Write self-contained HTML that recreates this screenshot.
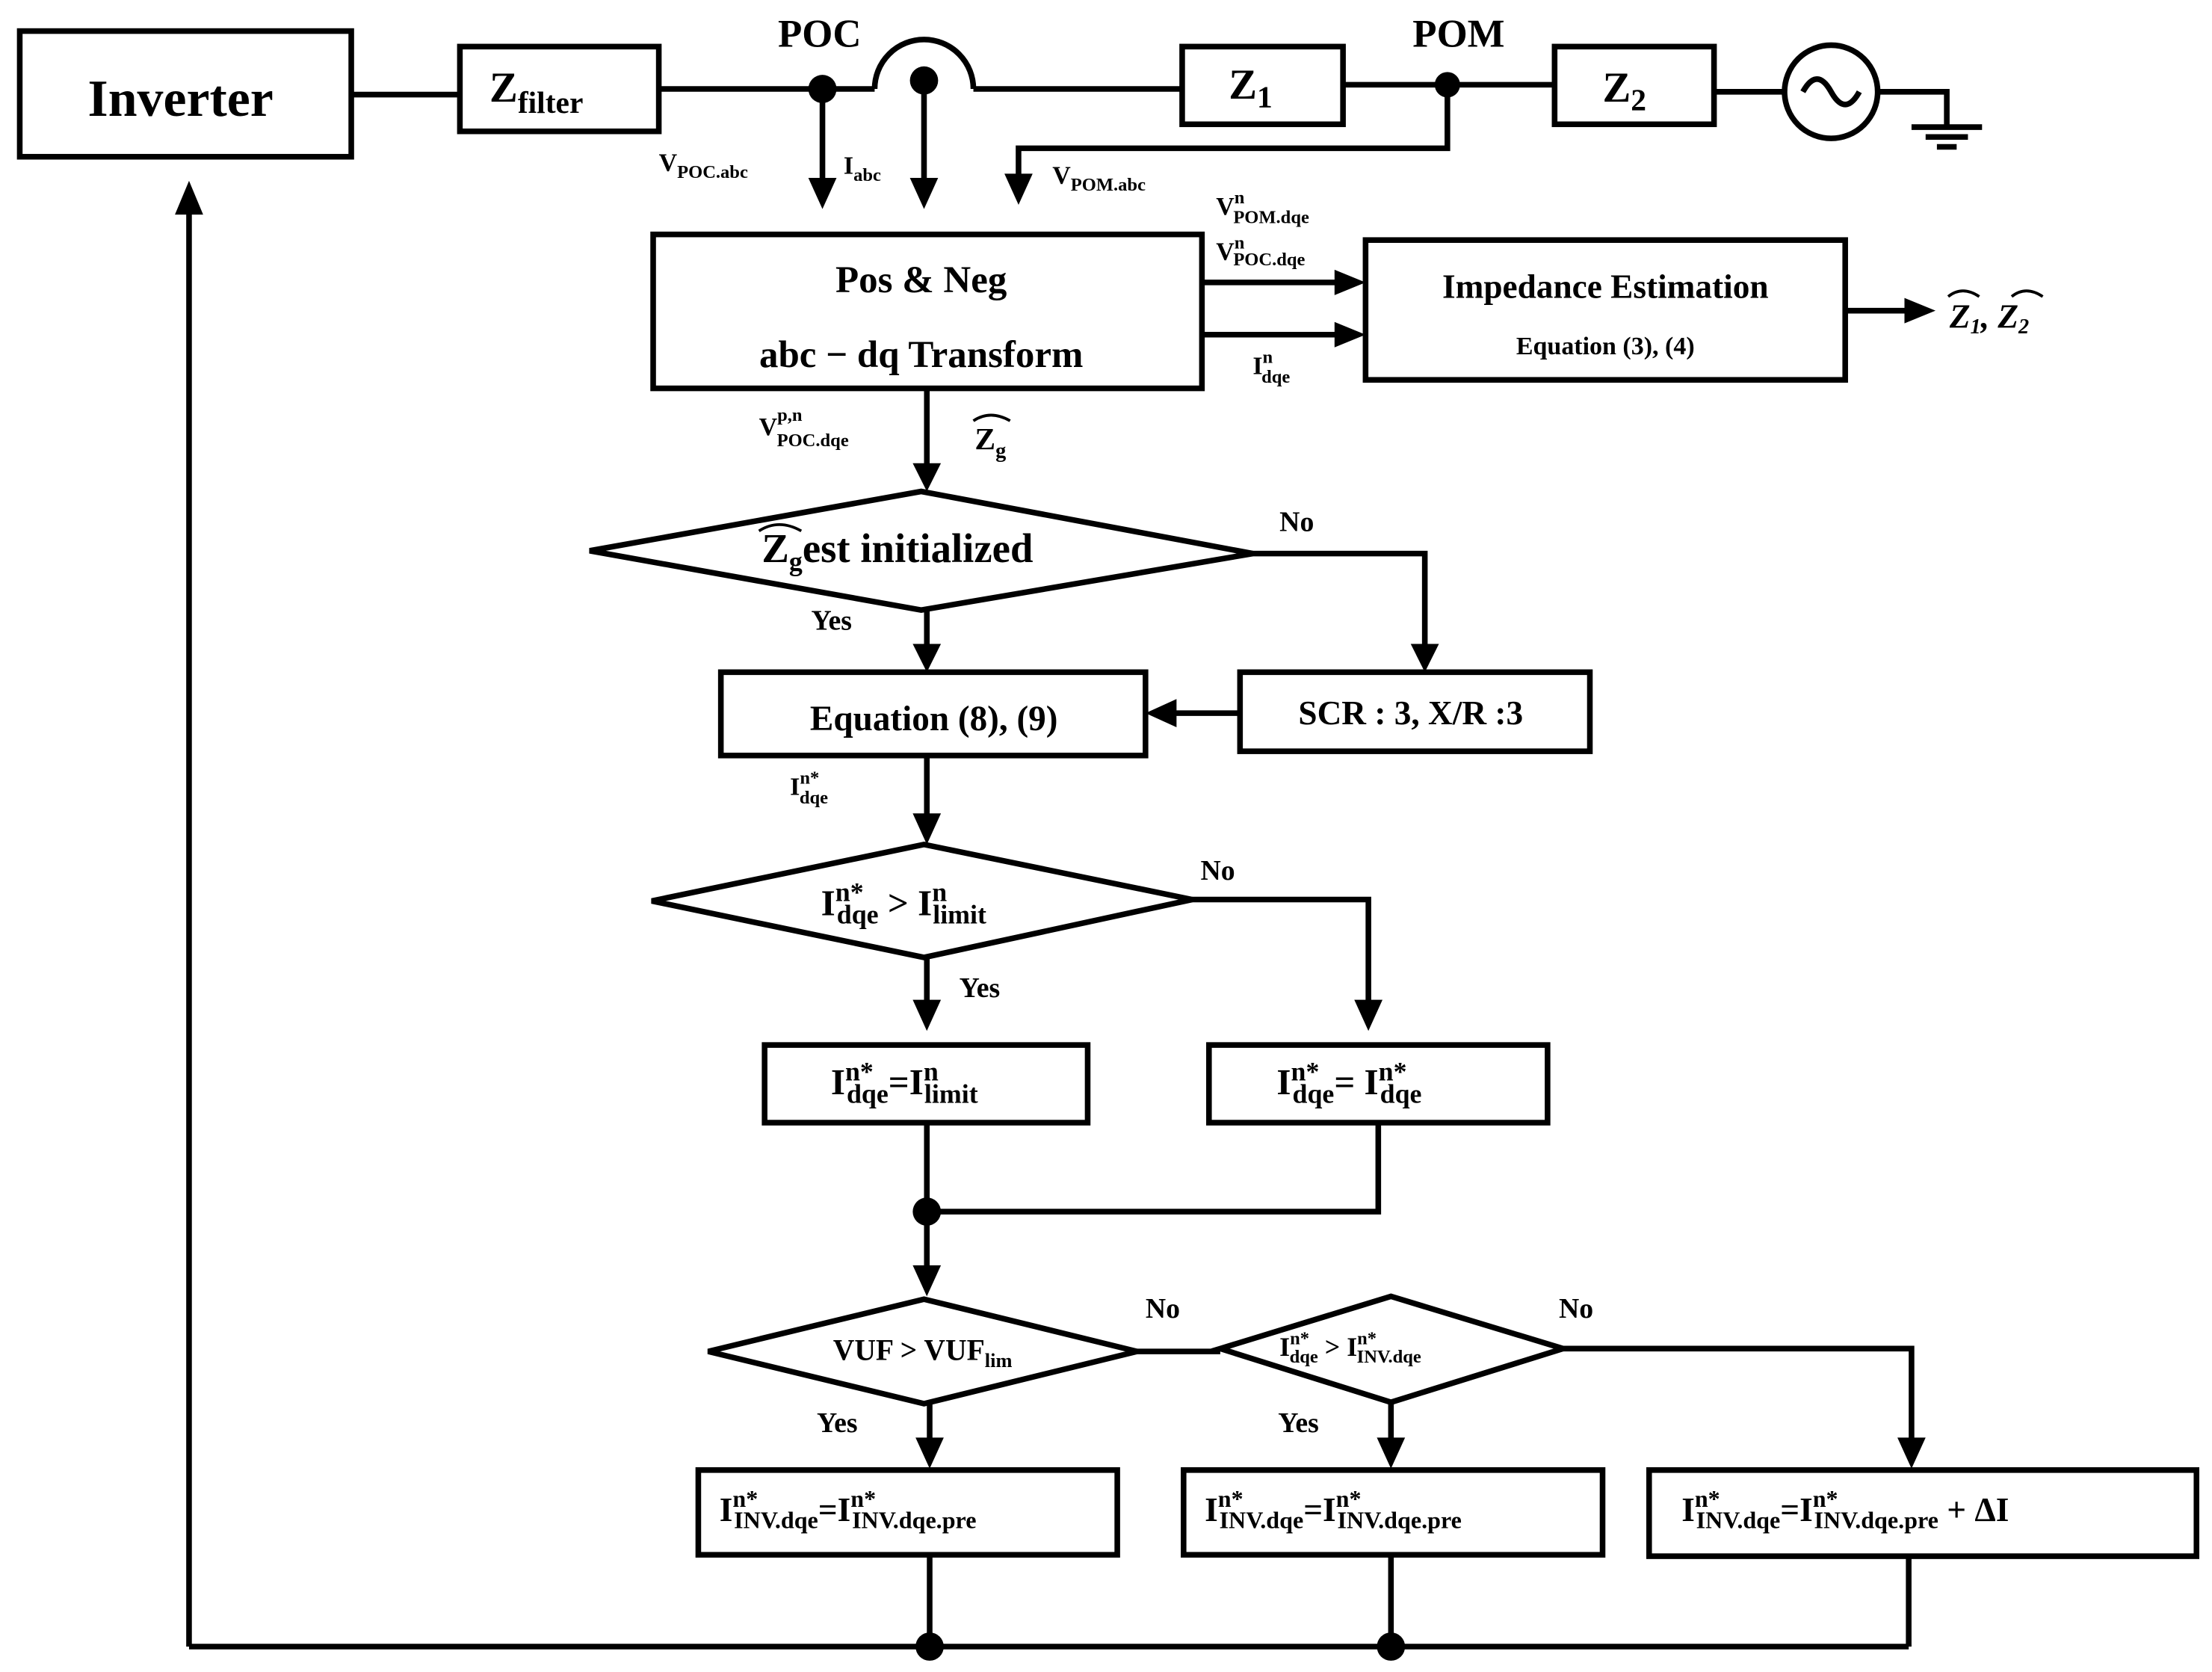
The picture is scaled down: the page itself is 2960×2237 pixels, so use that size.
<!DOCTYPE html>
<html><head><meta charset="utf-8">
<style>
html,body{margin:0;padding:0;background:#fff;}
svg{display:block;}
text{font-family:"Liberation Serif",serif;font-weight:bold;fill:#000;}
</style></head>
<body>
<svg width="2960" height="2237" viewBox="0 0 1568 1184" preserveAspectRatio="none" xmlns="http://www.w3.org/2000/svg">
<g stroke="#000" stroke-width="4" fill="none">
<rect x="14" y="22" width="235" height="89"/>
<rect x="326" y="33" width="141" height="60"/>
<rect x="838" y="33" width="114" height="55"/>
<rect x="1102" y="33" width="113" height="55"/>
<circle cx="1298" cy="65" r="33"/>
<path d="M1278 65 q10 -18 20 0 t20 0"/>
<path d="M249 67 H326 M467 63 H620 M690 63 H838 M952 60 H1102 M1215 65 H1265 M1331 65 H1380 V90"/>
<path d="M620 63 A35 35 0 0 1 690 63"/>
<path d="M1355 90 H1405 M1365 97 H1395 M1373 104 H1387"/>
<path d="M583 63 V128 M655 57 V128 M1026 60 V105 H722 V125"/>
<path d="M134 1166 V150 M134 1166 H1353"/>
<rect x="463" y="166" width="389" height="109"/>
<rect x="968" y="170" width="340" height="99"/>
<path d="M852 200 H948 M852 237 H948 M1308 220 H1352"/>
<path d="M657 275 V330"/>
<polygon points="418,390 653,348 888,392 653,432"/>
<path d="M888 392 H1010 V458 M657 432 V458"/>
<rect x="511" y="476" width="301" height="59"/>
<rect x="879" y="476" width="248" height="56"/>
<path d="M879 505 H832 M657 535 V578"/>
<polygon points="462,638 655,598 845,637 655,678"/>
<path d="M845 637 H970 V710 M657 678 V710"/>
<rect x="542" y="740" width="229" height="55"/>
<rect x="857" y="740" width="240" height="55"/>
<path d="M657 795 V858 M977 795 V858 H657 M657 858 V898"/>
<polygon points="502,957 655,920 806,957 655,994"/>
<path d="M806 957 H865"/>
<polygon points="865,955 986,918 1108,955 986,993"/>
<path d="M1108 955 H1355 V1020 M659 994 V1020 M986 993 V1020"/>
<rect x="495" y="1041" width="297" height="60"/>
<rect x="839" y="1041" width="297" height="60"/>
<rect x="1169" y="1041" width="388" height="61"/>
<path d="M659 1101 V1166 M986 1101 V1166 M1353 1102 V1166"/>
</g>
<g fill="#000">
<circle cx="583" cy="63" r="10"/><circle cx="655" cy="57" r="10"/><circle cx="1026" cy="60" r="9"/>
<circle cx="657" cy="858" r="10"/><circle cx="659" cy="1166" r="10"/><circle cx="986" cy="1166" r="10"/>
<polygon points="573,126 593,126 583,148"/>
<polygon points="645,126 665,126 655,148"/>
<polygon points="712,123 732,123 722,145"/>
<polygon points="124,152 144,152 134,128"/>
<polygon points="946,191 968,200 946,209"/>
<polygon points="946,228 968,237 946,246"/>
<polygon points="1350,211 1372,220 1350,229"/>
<polygon points="647,328 667,328 657,348"/>
<polygon points="1000,456 1020,456 1010,476"/>
<polygon points="647,456 667,456 657,476"/>
<polygon points="834,495 834,515 812,505"/>
<polygon points="647,576 667,576 657,598"/>
<polygon points="960,708 980,708 970,730"/>
<polygon points="647,708 667,708 657,730"/>
<polygon points="647,896 667,896 657,918"/>
<polygon points="649,1018 669,1018 659,1040"/>
<polygon points="976,1018 996,1018 986,1040"/>
<polygon points="1345,1018 1365,1018 1355,1040"/>
</g>
<text x="128" y="82" font-size="37" text-anchor="middle">Inverter</text>
<text x="347" y="72" font-size="30">Z<tspan font-size="22" dy="8">filter</tspan></text>
<text x="871" y="70" font-size="30">Z<tspan font-size="22" dy="6">1</tspan></text>
<text x="1136" y="72" font-size="30">Z<tspan font-size="22" dy="6">2</tspan></text>
<text x="581" y="33" font-size="28" text-anchor="middle">POC</text>
<text x="1034" y="33" font-size="28" text-anchor="middle">POM</text>
<text x="467" y="121" font-size="18">V<tspan font-size="13" dy="5">POC.abc</tspan></text>
<text x="598" y="123" font-size="18">I<tspan font-size="13" dy="5">abc</tspan></text>
<text x="746" y="130" font-size="18">V<tspan font-size="13" dy="5">POM.abc</tspan></text>
<text x="862" y="152" font-size="18">V<tspan font-size="13" dy="-8">n</tspan><tspan font-size="13" dx="-8" dy="14">POM.dqe</tspan></text>
<text x="862" y="184" font-size="18">V<tspan font-size="13" dy="-8">n</tspan><tspan font-size="13" dx="-8" dy="12">POC.dqe</tspan></text>
<text x="888" y="265" font-size="18">I<tspan font-size="13" dy="-8">n</tspan><tspan font-size="13" dx="-8" dy="14">dqe</tspan></text>
<text x="653" y="207" font-size="27" text-anchor="middle">Pos &amp; Neg</text>
<text x="653" y="260" font-size="27" text-anchor="middle">abc − dq Transform</text>
<text x="1138" y="211" font-size="24" text-anchor="middle">Impedance Estimation</text>
<text x="1138" y="251" font-size="18" text-anchor="middle">Equation (3), (4)</text>
<text x="1382" y="232" font-size="24" font-style="italic">Z<tspan font-size="15" dy="4">1</tspan><tspan dy="-4">, Z</tspan><tspan font-size="15" dy="4">2</tspan></text>
<path d="M1381 210 q10 -8 22 0 M1426 210 q10 -8 22 0" stroke="#000" stroke-width="2" fill="none"/>
<text x="538" y="308" font-size="18">V<tspan font-size="13" dy="-10">p,n</tspan><tspan font-size="13" dx="-18" dy="18">POC.dqe</tspan></text>
<text x="691" y="318" font-size="22">Z<tspan font-size="15" dy="6">g</tspan></text>
<path d="M690 298 q12 -8 26 0" stroke="#000" stroke-width="2" fill="none"/>
<text x="540" y="398" font-size="29">Z<tspan font-size="19" dy="6">g</tspan><tspan dy="-6">est initialized</tspan></text>
<path d="M538 376 q14 -9 30 0" stroke="#000" stroke-width="2" fill="none"/>
<text x="907" y="376" font-size="20">No</text>
<text x="575" y="446" font-size="20">Yes</text>
<text x="662" y="517" font-size="25" text-anchor="middle">Equation  (8), (9)</text>
<text x="1000" y="513" font-size="24" text-anchor="middle" font-family="Liberation Sans,sans-serif">SCR : 3, X/R :3</text>
<text x="560" y="563" font-size="18">I<tspan font-size="13" dy="-8">n*</tspan><tspan font-size="13" dx="-14" dy="14">dqe</tspan></text>
<text x="582" y="648" font-size="26">I<tspan font-size="19" dy="-10">n*</tspan><tspan font-size="19" dx="-19" dy="16">dqe</tspan><tspan dy="-6"> &gt; I</tspan><tspan font-size="19" dy="-10">n</tspan><tspan font-size="19" dx="-10" dy="16">limit</tspan></text>
<text x="851" y="623" font-size="20">No</text>
<text x="680" y="706" font-size="20">Yes</text>
<text x="589" y="775" font-size="26">I<tspan font-size="19" dy="-10">n*</tspan><tspan font-size="19" dx="-19" dy="16">dqe</tspan><tspan dy="-6">=I</tspan><tspan font-size="19" dy="-10">n</tspan><tspan font-size="19" dx="-10" dy="16">limit</tspan></text>
<text x="905" y="775" font-size="26">I<tspan font-size="19" dy="-10">n*</tspan><tspan font-size="19" dx="-19" dy="16">dqe</tspan><tspan dy="-6">= I</tspan><tspan font-size="19" dy="-10">n*</tspan><tspan font-size="19" dx="-19" dy="16">dqe</tspan></text>
<text x="654" y="963" font-size="21" text-anchor="middle">VUF &gt; VUF<tspan font-size="14" dy="5">lim</tspan></text>
<text x="907" y="960" font-size="19">I<tspan font-size="13" dy="-8">n*</tspan><tspan font-size="13" dx="-14" dy="13">dqe</tspan><tspan dy="-5"> &gt; I</tspan><tspan font-size="13" dy="-8">n*</tspan><tspan font-size="13" dx="-14" dy="13">INV.dqe</tspan></text>
<text x="812" y="933" font-size="20">No</text>
<text x="1105" y="933" font-size="20">No</text>
<text x="579" y="1014" font-size="20">Yes</text>
<text x="906" y="1014" font-size="20">Yes</text>
<text x="510" y="1077" font-size="24">I<tspan font-size="17" dy="-10">n*</tspan><tspan font-size="17" dx="-17" dy="15">INV.dqe</tspan><tspan dy="-5">=I</tspan><tspan font-size="17" dy="-10">n*</tspan><tspan font-size="17" dx="-17" dy="15">INV.dqe.pre</tspan></text>
<text x="854" y="1077" font-size="24">I<tspan font-size="17" dy="-10">n*</tspan><tspan font-size="17" dx="-17" dy="15">INV.dqe</tspan><tspan dy="-5">=I</tspan><tspan font-size="17" dy="-10">n*</tspan><tspan font-size="17" dx="-17" dy="15">INV.dqe.pre</tspan></text>
<text x="1192" y="1077" font-size="24">I<tspan font-size="17" dy="-10">n*</tspan><tspan font-size="17" dx="-17" dy="15">INV.dqe</tspan><tspan dy="-5">=I</tspan><tspan font-size="17" dy="-10">n*</tspan><tspan font-size="17" dx="-17" dy="15">INV.dqe.pre</tspan><tspan dy="-5"> + ΔI</tspan></text>
</svg>
</body></html>
